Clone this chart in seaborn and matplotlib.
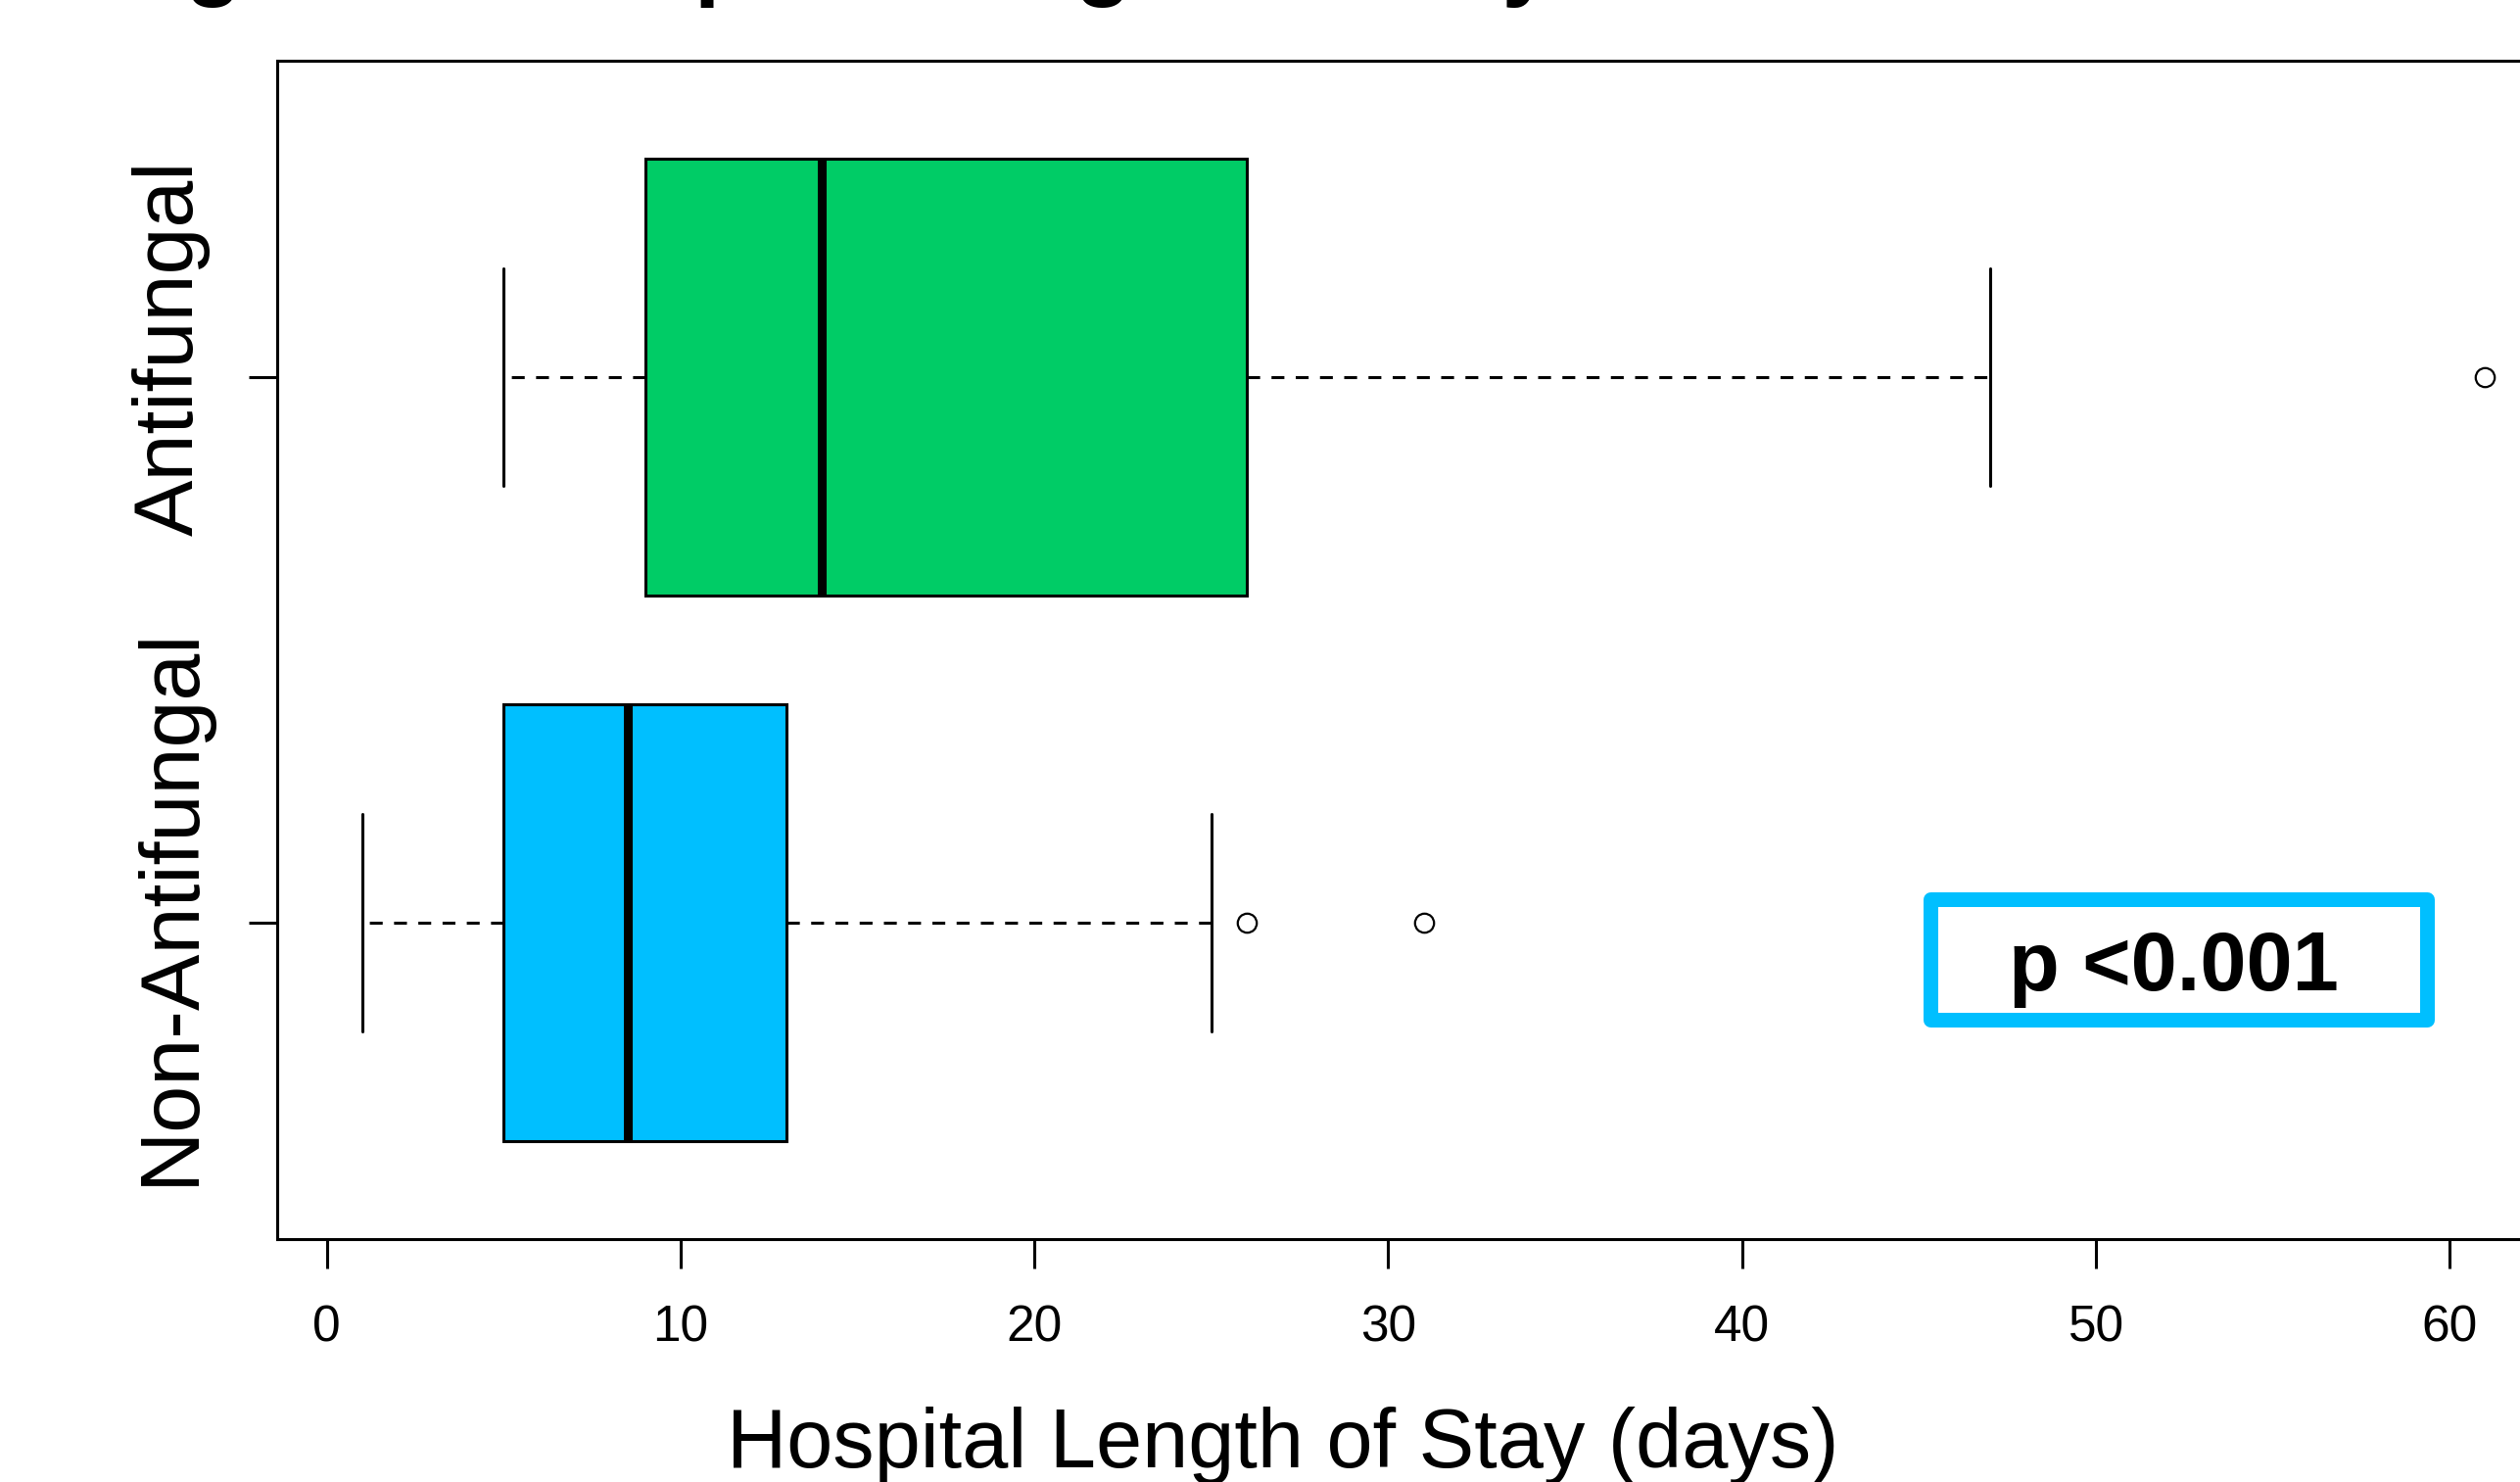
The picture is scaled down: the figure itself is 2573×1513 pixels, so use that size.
import matplotlib
matplotlib.use("Agg")
import matplotlib.pyplot as plt
import matplotlib.transforms as mtransforms
from matplotlib.patches import Rectangle
import seaborn as sns
import pandas as pd

# values (quartiles / whiskers / outliers)
groups = ['Antifungal', 'Non-Antifungal']
antifungal_los = [5, 7, 9, 12, 14, 20, 26, 47, 61]
non_antifungal_los = [1, 3, 4, 5, 5, 7, 8, 9, 11, 13, 13, 25, 26, 31]
box_colors = ['#00CC66', '#00BFFF']
x_ticks = [0, 10, 20, 30, 40, 50, 60]

df = pd.DataFrame({
    'group': [groups[0]] * len(antifungal_los) + [groups[1]] * len(non_antifungal_los),
    'los': antifungal_los + non_antifungal_los,
})

sns.set_style('ticks')
plt.rcParams['font.family'] = ['Liberation Sans', 'DejaVu Sans']
plt.rcParams.update({'text.color': 'black', 'axes.labelcolor': 'black',
                     'xtick.color': 'black', 'ytick.color': 'black',
                     'axes.edgecolor': 'black'})

fig = plt.figure(figsize=(25.73, 15.13), dpi=100)
ax = fig.add_axes([0.1100, 0.1639, 0.9099, 0.7951])

lw = 2.2
sns.boxplot(data=df, x='los', y='group', hue='group', order=groups, hue_order=groups,
            palette=box_colors, saturation=1, orient='h', width=0.8, whis=1.5,
            linecolor='black', linewidth=lw, legend=False, ax=ax,
            medianprops={'linewidth': 6.5, 'color': 'black', 'solid_capstyle': 'butt'},
            whiskerprops={'linestyle': (0, (4.3, 3.8)), 'linewidth': lw},
            capprops={'linewidth': lw},
            flierprops={'marker': 'o', 'markersize': 14, 'markerfacecolor': 'none',
                        'markeredgecolor': 'black', 'markeredgewidth': 1.6})

ax.set_xlim(-1.4, 63.4)
ax.set_ylim(1.58, -0.58)
ax.set_xticks(x_ticks)
ax.set_xticklabels([str(t) for t in x_ticks],
                   fontfamily=['Liberation Sans Narrow', 'Liberation Sans'], fontsize=37)
ax.tick_params(axis='x', length=21.6, width=2.2, pad=26, colors='black')
ax.tick_params(axis='y', length=21, width=2.2, pad=28, colors='black')
for spine in ax.spines.values():
    spine.set_visible(True)
    spine.set_linewidth(2.2)
    spine.set_color('black')

ax.set_yticks([0, 1])
ax.set_yticklabels(groups, rotation=90, va='center', fontsize=62, color='black')
for lab, dy in zip(ax.get_yticklabels(), [30, 17]):
    lab.set_transform(lab.get_transform() + mtransforms.ScaledTranslation(0, dy / 100, fig.dpi_scale_trans))

ax.set_ylabel('')
ax.set_xlabel('Hospital Length of Stay (days)', fontsize=61, color='black')
ax.xaxis.label.set_va('baseline')
ax.xaxis.set_label_coords(0.4387, -0.1937)

# p-value box
ax.add_patch(Rectangle((45.33, 0.957), 59.34 - 45.33, 1.178 - 0.957, fill=False,
                       edgecolor='#00BFFF', linewidth=10.8, joinstyle='round', zorder=5))
ax.text(52.2, 1.084, 'p <0.001', fontsize=61, fontweight='bold', color='black',
        ha='center', va='center', zorder=6)

# title cut off at top of the image
fig.text(105 / 2573, 1 + 12 / 1513, 'Figure 2: Hospital Length of Stay', color='black',
         fontsize=68, fontweight='bold', ha='left', va='baseline')

fig.savefig('out.png', dpi=100)
